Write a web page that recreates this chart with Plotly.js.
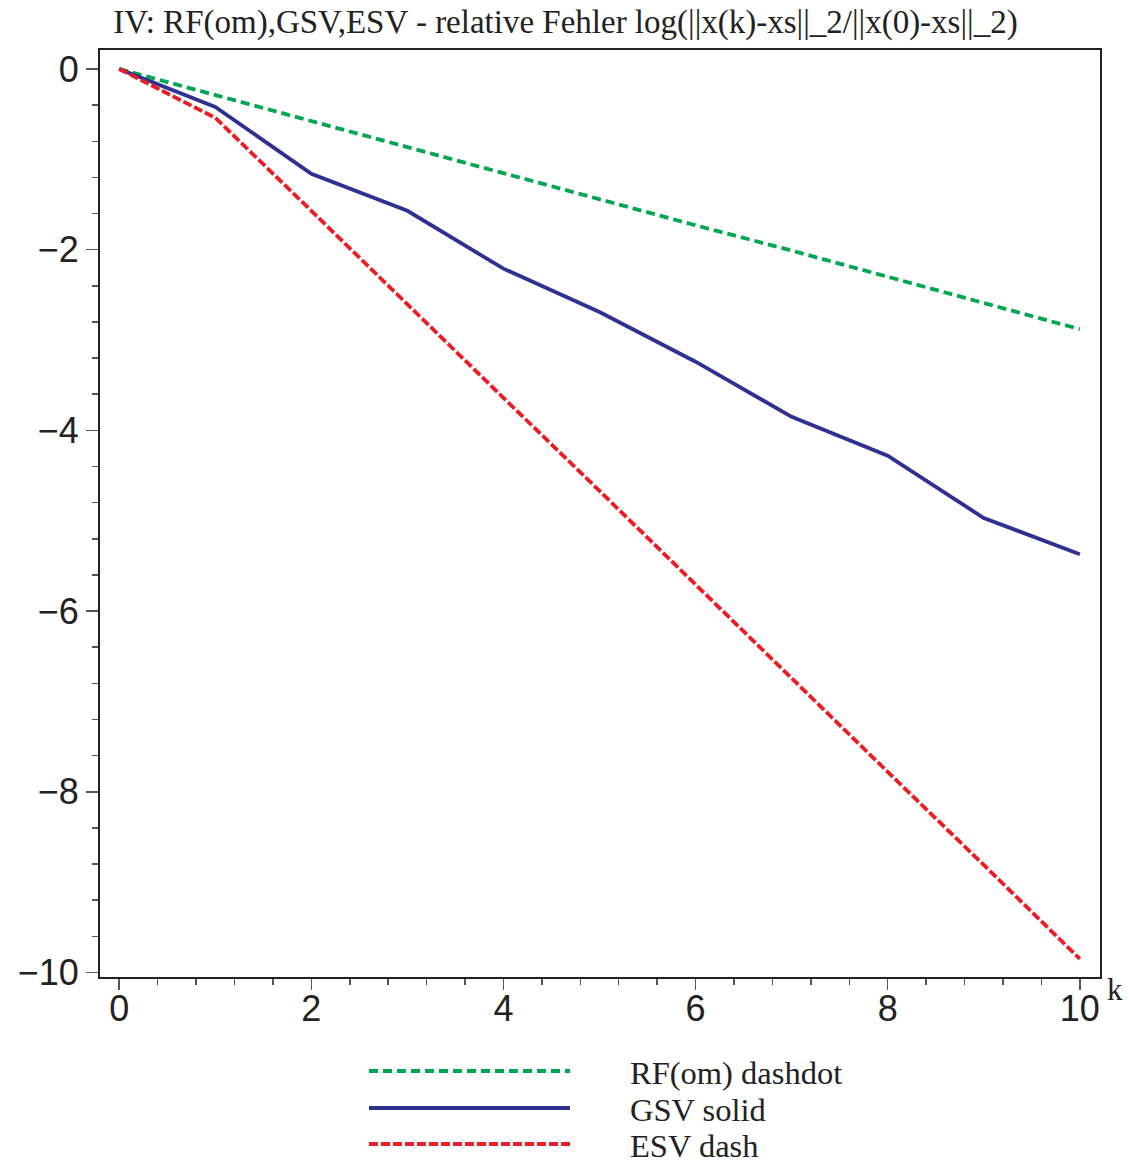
<!DOCTYPE html>
<html>
<head>
<meta charset="utf-8">
<script src="https://cdn.plot.ly/plotly-3.0.1.min.js"></script>
<style>html,body{margin:0;padding:0;background:#fff;}#chart{width:1131px;height:1164px;}</style>
</head>
<body>
<div id="chart"></div>
<script>
const k = [0, 1, 2, 3, 4, 5, 6, 7, 8, 9, 10];
const rfValues  = [0, -0.29, -0.58, -0.86, -1.15, -1.44, -1.73, -2.01, -2.30, -2.59, -2.88];
const gsvValues = [0, -0.42, -1.16, -1.57, -2.21, -2.69, -3.24, -3.85, -4.28, -4.97, -5.37];
const esvValues = [0, -0.54, -1.57, -2.61, -3.64, -4.67, -5.71, -6.74, -7.78, -8.81, -9.85];
const seriesNames = ["RF(om) dashdot", "GSV solid", "ESV dash"];
const seriesColors = ["#00a651", "#2e3192", "#ed1c24"];
const seriesDash = ["9px,5px", "solid", "9px,3px"];
const xTickVals = [0, 2, 4, 6, 8, 10];
const yTickVals = [0, -2, -4, -6, -8, -10];
const titleText = "IV: RF(om),GSV,ESV - relative Fehler log(||x(k)-xs||_2/||x(0)-xs||_2)";

const allValues = [rfValues, gsvValues, esvValues];
const traces = allValues.map((v, i) => ({
  x: k, y: v, type: "scatter", mode: "lines", name: seriesNames[i],
  line: {color: seriesColors[i], width: 3.8, dash: seriesDash[i]},
  showlegend: false, hoverinfo: "skip"
}));

// legend samples (decoration, paper coords)
const legY = [1071, 1108, 1144];
const H = 1164, mt = 50, mb = 187, plotH = H - mt - mb;
const W = 1131, ml = 100, mr = 31, plotW = W - ml - mr;
const px2paperY = p => (H - mb - p) / plotH;
const px2paperX = p => (p - ml) / plotW;
const shapes = [];
const annotations = [];
seriesNames.forEach((n, i) => {
  shapes.push({type: "line", xref: "paper", yref: "paper",
    x0: px2paperX(369), x1: px2paperX(570), y0: px2paperY(legY[i]), y1: px2paperY(legY[i]),
    line: {color: seriesColors[i], width: 3.8, dash: seriesDash[i]}});
  annotations.push({xref: "paper", yref: "paper", x: px2paperX(629), y: px2paperY(legY[i] + 2),
    xanchor: "left", yanchor: "middle", showarrow: false, text: n, borderpad: 0,
    font: {family: "Liberation Serif, Times New Roman, serif", size: 32.5, color: "#222"}});
});
annotations.push({xref: "paper", yref: "paper", x: px2paperX(1105), y: px2paperY(989),
  xanchor: "left", yanchor: "middle", showarrow: false, text: "k",
  font: {family: "Liberation Serif, Times New Roman, serif", size: 31, color: "#222"}});

const layout = {
  width: W, height: H,
  margin: {l: ml, r: mr, t: mt, b: mb},
  paper_bgcolor: "#fff", plot_bgcolor: "#fff",
  title: {text: titleText, x: 0.5, xanchor: "center", y: 1 - 21 / H, yanchor: "middle",
    font: {family: "Liberation Serif, Times New Roman, serif", size: 33, color: "#222"}},
  showlegend: false,
  xaxis: {range: [-0.2, 10.21], tickvals: xTickVals, ticks: "outside", ticklen: 11, tickwidth: 1.5,
    tickcolor: "#555", showline: true, linecolor: "#222", linewidth: 2, mirror: true,
    showgrid: false, zeroline: false, ticklabelstandoff: -12,
    minor: {dtick: 0.4, tick0: 0, ticks: "outside", ticklen: 6, tickwidth: 1.5, tickcolor: "#555", showgrid: false},
    tickfont: {family: "Liberation Sans, Arial, sans-serif", size: 36, color: "#222"}},
  yaxis: {range: [-10.05, 0.21], tickvals: yTickVals, ticks: "outside", ticklen: 12, tickwidth: 1.5,
    tickcolor: "#555", showline: true, linecolor: "#222", linewidth: 2, mirror: true,
    showgrid: false, zeroline: false,
    minor: {dtick: 0.4, tick0: 0, ticks: "outside", ticklen: 6, tickwidth: 1.5, tickcolor: "#555", showgrid: false},
    tickfont: {family: "Liberation Sans, Arial, sans-serif", size: 36, color: "#222"}},
  shapes: shapes,
  annotations: annotations
};

Plotly.newPlot("chart", traces, layout, {displayModeBar: false, staticPlot: true});
</script>
</body>
</html>
